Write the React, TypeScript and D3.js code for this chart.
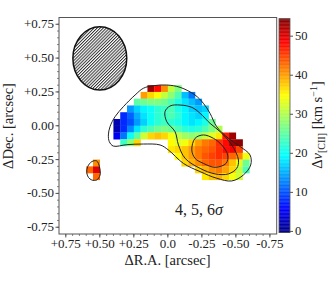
import React from "react";
import * as d3 from "d3";

const W = 333, H = 285;
const cellSize = 0.05;
const mapTopDec = 0.3;
const mapLeftRa = 0.4;

// [first column, values] per row, km/s
const row0: [number, number[]] = [5, [53, 48, 41, 31, 27]];
const row1: [number, number[]] = [4, [40, 37, 35, 31, 28, 24, 16, 12]];
const row2: [number, number[]] = [3, [25, 26, 27, 27, 26, 24, 21, 18, 16, 14]];
const row3: [number, number[]] = [2, [14, 17, 19, 20, 22, 23, 24, 21, 19, 17, 16, 17]];
const row4: [number, number[]] = [1, [8, 11, 15, 18, 20, 22, 23, 24, 22, 19, 18, 17, 19]];
const row5: [number, number[]] = [0, [2, 8, 10, 14, 17, 20, 22, 23, 22, 21, 19, 18, 19, 21, 26]];
const row6: [number, number[]] = [0, [2, 8, 13, 18, 22, 24, 26, 27, 26, 24, 22, 21, 22, 24, 27, 30]];
const row7: [number, number[]] = [0, [5, 12, 20, 25, 32, 37, 38, 37, 34, 31, 29, 28, 29, 31, 33, 36, 47, 53]];
const row8a: [number, number[]] = [1, [23, 28, 37]];
const row8b: [number, number[]] = [8, [35, 33, 34, 37, 40, 42, 43, 46, 48, 53, 54]];
const row9: [number, number[]] = [8, [36, 37, 38, 40, 42, 43, 44, 46, 48, 49, 45]];
const row10: [number, number[]] = [9, [35, 38, 40, 42, 44, 45, 46, 45, 43, 41, 34]];
const row11: [number, number[]] = [10, [37, 39, 41, 43, 44, 44, 42, 38, 33, 26]];
const row12: [number, number[]] = [12, [37, 39, 41, 42, 40, 37, 31, 24]];
const row13: [number, number[]] = [13, [36, 38, 39, 37, 34, 32]];
const blob11: [number, number[]] = [-3, [41]];
const blob12: [number, number[]] = [-4, [43, 50]];
const blob13: [number, number[]] = [-3, [43]];

const mapRows: [number, [number, number[]]][] = [
  [0, row0], [1, row1], [2, row2], [3, row3], [4, row4], [5, row5], [6, row6], [7, row7],
  [8, row8a], [8, row8b], [9, row9], [10, row10], [11, row11], [12, row12], [13, row13],
  [11, blob11], [12, blob12], [13, blob13],
];

// contours [ra, dec]
const contourOuter: [number, number][] = [
  [0.437, -0.068], [0.425, -0.007], [0.388, 0.067], [0.327, 0.141], [0.241, 0.227], [0.18, 0.277],
  [0.106, 0.296], [0.008, 0.301], [-0.09, 0.284], [-0.2, 0.227], [-0.261, 0.166], [-0.31, 0.092],
  [-0.359, -0.007], [-0.445, -0.093], [-0.531, -0.154], [-0.604, -0.216], [-0.609, -0.29],
  [-0.555, -0.364], [-0.47, -0.408], [-0.359, -0.388], [-0.237, -0.339], [-0.114, -0.278],
  [-0.004, -0.179], [0.057, -0.142], [0.18, -0.135], [0.302, -0.14], [0.401, -0.15], [0.43, -0.118],
];
const contourMiddle: [number, number][] = [
  [0.021, 0.104], [-0.016, 0.146], [-0.09, 0.153], [-0.176, 0.136], [-0.237, 0.092], [-0.31, 0.018],
  [-0.384, -0.044], [-0.47, -0.142], [-0.519, -0.253], [-0.506, -0.315], [-0.445, -0.356],
  [-0.347, -0.356], [-0.237, -0.315], [-0.127, -0.241], [-0.078, -0.142], [-0.053, -0.044], [0.008, 0.03],
];
const contourInner: [number, number][] = [
  [-0.176, -0.179], [-0.2, -0.093], [-0.261, -0.068], [-0.335, -0.093], [-0.396, -0.142],
  [-0.44, -0.216], [-0.428, -0.278], [-0.347, -0.307], [-0.261, -0.278], [-0.2, -0.241],
];
const contourBlob: [number, number][] = [
  [0.596, -0.346], [0.589, -0.302], [0.559, -0.265], [0.523, -0.26], [0.503, -0.302],
  [0.498, -0.364], [0.523, -0.401], [0.559, -0.401], [0.584, -0.381],
];
const contours = [contourOuter, contourMiddle, contourInner, contourBlob];

const beam = { ra: 0.5, dec: 0.498, a: 0.198, b: 0.234 };

const raTicks = [0.75, 0.5, 0.25, 0, -0.25, -0.5, -0.75];
const raLabels = ["+0.75", "+0.50", "+0.25", "0.0", "-0.25", "-0.50", "-0.75"];
const decTicks = [0.75, 0.5, 0.25, 0, -0.25, -0.5, -0.75];
const decLabels = ["+0.75", "+0.50", "+0.25", "0.00", "-0.25", "-0.50", "-0.75"];
const minorTicks = d3.range(-16, 17).map((i) => i * 0.05).filter((v) => Math.abs(v) < 0.79);
const cbarTicks = [0, 10, 20, 30, 40, 50];

const jetStops = ["#000080", "#0000ff", "#0080ff", "#00ffff", "#80ff80", "#ffff00", "#ff8000", "#ff0000", "#800000"];
const jetFractions = [0, 0.11, 0.235, 0.36, 0.5, 0.64, 0.765, 0.89, 1];
const vMin = -0.3, vMax = 54.5;

const frame = { left: 59, right: 276.7, top: 17.5, bottom: 234 };
const x = d3.scaleLinear().domain([0.8, -0.8]).range([frame.left, frame.right]);
const y = d3.scaleLinear().domain([0.8, -0.8]).range([frame.top, frame.bottom]);
const cbarY = d3.scaleLinear().domain([vMin, vMax]).range([232.6, 18.6]);
const jet = d3
  .scaleLinear<string>()
  .domain(jetFractions.map((f) => vMin + f * (vMax - vMin)))
  .range(jetStops)
  .interpolate(d3.interpolateRgb);

const line = d3
  .line<[number, number]>()
  .x((d) => x(d[0]))
  .y((d) => y(d[1]))
  .curve(d3.curveCatmullRomClosed.alpha(0.5));

const axisColor = "#555";
const textColor = "#222";
const serif = "'Liberation Serif', serif";

export default function App() {
  const cbarValues = d3.range(vMin, vMax, 0.2);
  return (
    <svg
      width={W}
      height={H}
      style={{ position: "absolute", left: 0, top: 0, background: "#fff" }}
      fontFamily={serif}
      fill={textColor}
    >
      <defs>
        <pattern id="hatch" width="2.2" height="2.2" patternUnits="userSpaceOnUse" patternTransform="rotate(45)">
          <rect width="2.2" height="2.2" fill="#fff" />
          <rect width="1" height="2.2" fill="#333" />
        </pattern>
      </defs>

      {mapRows.flatMap(([r, [start, vals]]) =>
        vals.map((v, i) => {
          const raL = mapLeftRa - (start + i) * cellSize;
          const decT = mapTopDec - r * cellSize;
          return (
            <rect
              key={`${r}-${start}-${i}`}
              x={x(raL)}
              y={y(decT)}
              width={x(raL - cellSize) - x(raL) + 0.2}
              height={y(decT - cellSize) - y(decT) + 0.2}
              fill={jet(v)}
            />
          );
        })
      )}

      {contours.map((c, i) => (
        <path key={i} d={line(c) ?? ""} fill="none" stroke="#222" strokeWidth={1} />
      ))}

      <ellipse
        cx={x(beam.ra)}
        cy={y(beam.dec)}
        rx={x(beam.ra - beam.a) - x(beam.ra)}
        ry={y(beam.dec - beam.b) - y(beam.dec)}
        fill="url(#hatch)"
        stroke="#111"
        strokeWidth={1.5}
      />

      <text x={175} y={215} fontSize={16}>
        4, 5, 6<tspan fontStyle="italic">σ</tspan>
      </text>

      <rect
        x={frame.left}
        y={frame.top}
        width={frame.right - frame.left}
        height={frame.bottom - frame.top}
        fill="none"
        stroke={axisColor}
        strokeWidth={1}
      />

      {minorTicks.map((v) => (
        <g key={v} stroke={axisColor} strokeWidth={0.7}>
          <line x1={x(v)} x2={x(v)} y1={frame.bottom} y2={frame.bottom + 2} />
          <line x1={frame.left} x2={frame.left - 2} y1={y(v)} y2={y(v)} />
        </g>
      ))}
      {raTicks.map((v, i) => (
        <g key={v}>
          <line x1={x(v)} x2={x(v)} y1={frame.bottom} y2={frame.bottom + 3.5} stroke={axisColor} />
          <text x={x(v)} y={248} fontSize={13} textAnchor="middle">
            {raLabels[i]}
          </text>
        </g>
      ))}
      {decTicks.map((v, i) => (
        <g key={v}>
          <line x1={frame.left} x2={frame.left - 3.5} y1={y(v)} y2={y(v)} stroke={axisColor} />
          <text x={54} y={y(v) + 4} fontSize={13} textAnchor="end">
            {decLabels[i]}
          </text>
        </g>
      ))}

      <text x={167.5} y={265} fontSize={14.5} textAnchor="middle">
        ΔR.A. [arcsec]
      </text>
      <text transform={`translate(13,126) rotate(-90)`} fontSize={14.5} textAnchor="middle">
        ΔDec. [arcsec]
      </text>

      {cbarValues.map((v) => (
        <rect key={v} x={279} width={11} y={cbarY(v + 0.2)} height={cbarY(v) - cbarY(v + 0.2) + 0.3} fill={jet(v)} />
      ))}
      <rect x={279} y={cbarY(vMax)} width={11} height={cbarY(vMin) - cbarY(vMax)} fill="none" stroke={axisColor} strokeWidth={0.8} />
      {cbarTicks.map((v) => (
        <g key={v}>
          <line x1={290} x2={293} y1={cbarY(v)} y2={cbarY(v)} stroke={axisColor} />
          <text x={295} y={cbarY(v) + 4} fontSize={12.5}>
            {v}
          </text>
        </g>
      ))}
      <text transform={`translate(322,125) rotate(-90)`} fontSize={14.5} textAnchor="middle">
        Δ<tspan fontStyle="italic">v</tspan>
        <tspan fontSize={10} dy={3}>[CII]</tspan>
        <tspan dy={-3}> [km s</tspan>
        <tspan fontSize={10} dy={-5}>−1</tspan>
        <tspan dy={5}>]</tspan>
      </text>
    </svg>
  );
}
